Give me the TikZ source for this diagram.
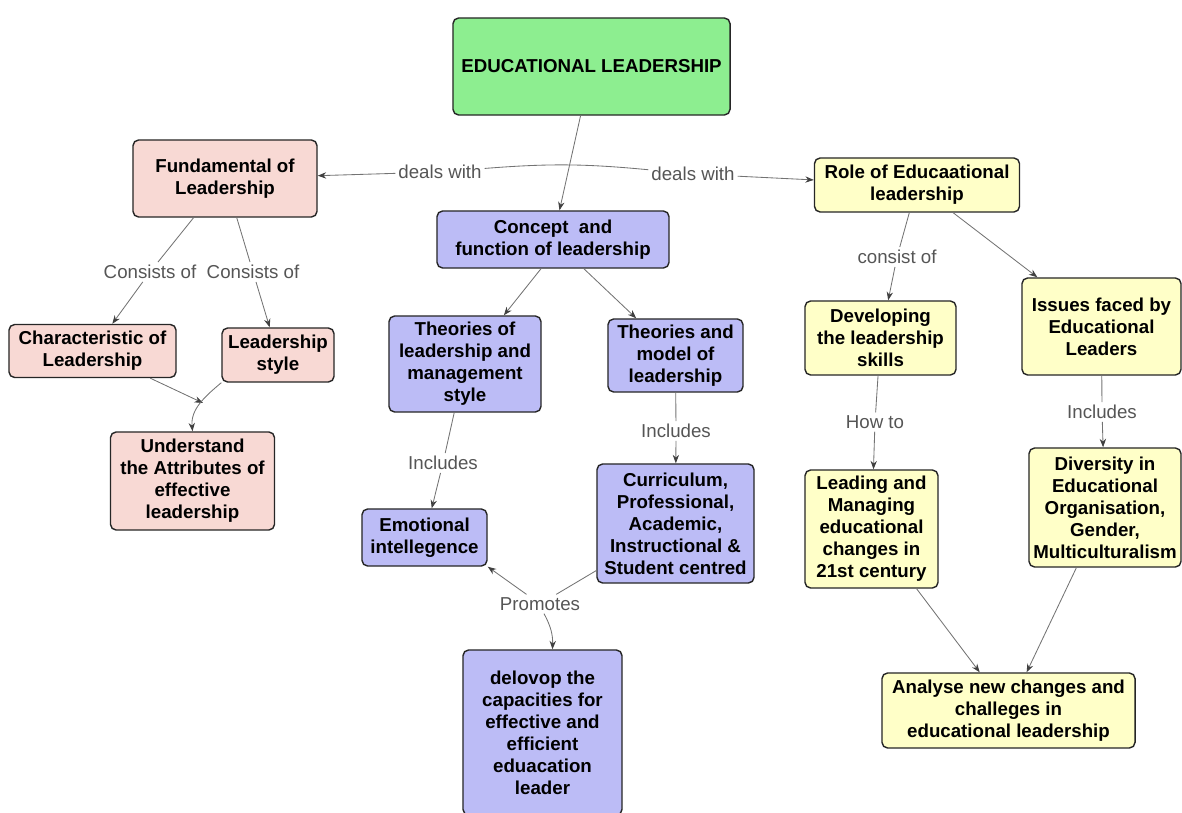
\documentclass[tikz,border=0pt]{standalone}
\usepackage{fontspec}
\setmainfont{Liberation Sans}
\usetikzlibrary{arrows.meta}

\definecolor{greenc}{HTML}{8DEE90}
\definecolor{pinkc}{HTML}{F8D9D4}
\definecolor{bluec}{HTML}{BCBCF6}
\definecolor{yellowc}{HTML}{FFFFC8}
\definecolor{linkc}{HTML}{555555}

\tikzstyle{box}=[shape=rectangle,rounded corners=4pt,draw=black!85,line width=1pt,align=center,inner sep=1pt,font=\fontsize{13.3}{15.6}\selectfont\bfseries]
\tikzstyle{pinkbox}=[box,fill=pinkc]
\tikzstyle{bluebox}=[box,fill=bluec]
\tikzstyle{yellowbox}=[box,fill=yellowc]
\tikzstyle{link}=[inner sep=2pt,text=linkc,font=\fontsize{13.3}{15.6}\selectfont]
\tikzstyle{conn}=[draw=black!55,line width=0.6pt]
\tikzstyle{arr}=[conn,-{Stealth[length=6pt,width=4.5pt,color=black!75]}]
\tikzset{sz/.style 2 args={minimum width=#1cm,minimum height=#2cm}}

\begin{document}
\begin{tikzpicture}[x=0.025cm,y=-0.025cm]
\useasboundingbox (0,0) rectangle (1182,813);

% top
\node[box,fill=greenc,sz={6.925}{2.425}] (title) at (591.5,66.5) {EDUCATIONAL LEADERSHIP};
\node[bluebox,sz={5.8}{1.425}] (concept) at (553,239.5) {Concept\ \ and\\function of leadership};
\node[pinkbox,sz={4.6}{1.925}] (fund) at (225,178.5) {Fundamental of\\Leadership};
\node[yellowbox,sz={5.125}{1.35}] (role) at (917,185) {Role of Educaational\\leadership};

% left column
\node[pinkbox,sz={4.175}{1.325}] (charac) at (92.5,351) {Characteristic of\\Leadership};
\node[pinkbox,sz={2.8}{1.35}] (lstyle) at (278,355) {Leadership\\style};
\node[pinkbox,sz={4.1}{2.45}] (underst) at (192.5,481) {Understand\\the Attributes of\\effective\\leadership};
\coordinate (merge) at (203,403);

% middle column
\node[bluebox,sz={3.8}{2.4}] (theomgmt) at (465,364) {Theories of\\leadership and\\management\\style};
\node[bluebox,sz={3.375}{1.825}] (theomodel) at (675.5,355.5) {Theories and\\model of\\leadership};
\node[bluebox,sz={3.125}{1.425}] (emo) at (424.5,537.5) {Emotional\\intellegence};
\node[bluebox,sz={3.925}{2.975}] (curric) at (675.5,523.5) {Curriculum,\\Professional,\\Academic,\\Instructional \&\\Student centred};
\node[bluebox,sz={3.975}{4.125}] (delovop) at (542.5,732.5) {delovop the\\capacities for\\effective and\\efficient\\eduacation\\leader};

% right column
\node[yellowbox,sz={3.775}{1.85}] (develop) at (880.5,338) {Developing\\the leadership\\skills};
\node[yellowbox,sz={3.975}{2.425}] (issues) at (1101.5,326.5) {Issues faced by\\Educational\\Leaders};
\node[yellowbox,sz={3.325}{2.95}] (leading) at (871.5,529) {Leading and\\Managing\\educational\\changes in\\21st century};
\node[yellowbox,sz={3.8}{2.975}] (divers) at (1105,507.5) {Diversity in\\Educational\\Organisation,\\Gender,\\Multiculturalism};
\node[yellowbox,sz={6.325}{1.875}] (analyse) at (1008.5,710.5) {Analyse new changes and\\challeges in\\educational leadership};

% links
\draw[arr] (title) -- (concept);
\node[link] (dl1) at (440,172) {deals with}
    edge[arr] (fund);
\node[link] (dl2) at (693,174) {deals with}
    edge[arr] (role)
    edge[conn,bend right=5] (dl1);

\node[link] (cons1) at (150,272) {Consists of}
    edge[conn] (fund)
    edge[arr] (charac);
\node[link] (cons2) at (253,272) {Consists of}
    edge[conn] (fund)
    edge[arr] (lstyle);
\draw[arr] (charac) -- (merge);
\draw[arr] (lstyle.south west) to[out=-140,in=95] (underst.north);

\draw[arr] ([xshift=-0.3cm]concept.south) -- (theomgmt);
\draw[arr] (concept) -- (theomodel);
\node[link] (incl1) at (443,463) {Includes}
    edge[conn] (theomgmt)
    edge[arr] (emo);
\node[link] (incl2) at (676,431) {Includes}
    edge[conn] (theomodel)
    edge[arr] (curric);
\node[link] (promo) at (540,604) {Promotes}
    edge[conn] (curric)
    edge[arr] (emo.south east);
\draw[arr] ([xshift=0.1cm]promo.south) to[bend left=15] ([xshift=0.25cm]delovop.north);

\node[link] (consist) at (897,257) {consist of}
    edge[conn] (role)
    edge[arr] (develop);
\draw[arr] (role) -- (issues);
\node[link] (howto) at (875,422) {How to}
    edge[conn] (develop)
    edge[arr] (leading);
\node[link] (incl3) at (1102,412) {Includes}
    edge[conn] (issues)
    edge[arr] (divers);
\draw[arr] (leading) -- (analyse);
\draw[arr] (divers) -- (analyse);
\end{tikzpicture}
\end{document}
